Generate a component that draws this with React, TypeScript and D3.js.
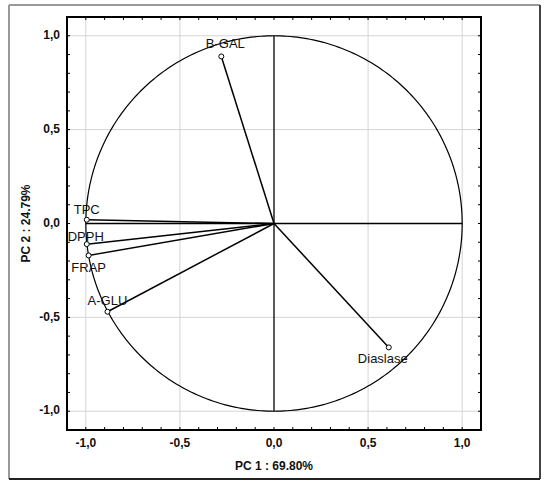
import React from "react";
import * as d3 from "d3";

const variables = ["B-GAL", "TPC", "DPPH", "FRAP", "A-GLU", "Diaslase"];
const pc1Values = [-0.28, -0.995, -0.995, -0.985, -0.885, 0.61];
const pc2Values = [0.89, 0.02, -0.11, -0.17, -0.47, -0.66];
const labelDx = [4, 0, -1, 0, 0, -6];
const labelDy = [-12, -9, -7, 13, -10, 12];
const tickValues = [-1, -0.5, 0, 0.5, 1];
const tickLabels = ["-1,0", "-0,5", "0,0", "0,5", "1,0"];
const xTitle = "PC 1 : 69.80%";
const yTitle = "PC 2 : 24.79%";

const W = 550;
const H = 489;
const left = 67, right = 481, top = 17, bottom = 430;

export default function App() {
  const x = d3.scaleLinear().domain([-1.1, 1.1]).range([left, right]);
  const y = d3.scaleLinear().domain([-1.1, 1.1]).range([bottom, top]);
  const minor = d3.range(-11, 12).map((v) => v / 10);
  const circle = d3.range(0, 361, 1).map((a) => [Math.cos((a * Math.PI) / 180), Math.sin((a * Math.PI) / 180)]);
  const circlePath = d3.line<number[]>().x((d) => x(d[0])).y((d) => y(d[1]))(circle) || "";
  const font = "Liberation Sans, Arial, sans-serif";
  return (
    <svg width={W} height={H} style={{ position: "absolute", left: 0, top: 0, background: "#fff" }} fontFamily={font}>
      <rect x={0} y={0} width={W} height={H} fill="#fff" />
      <line x1={9} y1={5} x2={540} y2={5} stroke="#999" strokeWidth={2} />
      <line x1={9} y1={5} x2={9} y2={479} stroke="#999" strokeWidth={2} />
      <line x1={540} y1={5} x2={540} y2={479} stroke="#444" strokeWidth={2} />
      <line x1={9} y1={479} x2={540} y2={479} stroke="#222" strokeWidth={2} />
      {tickValues.filter((v) => v !== 0).map((v) => (
        <g key={"g" + v}>
          <line x1={x(v)} x2={x(v)} y1={top} y2={bottom} stroke="#d4d4d4" strokeWidth={1} />
          <line x1={left} x2={right} y1={y(v)} y2={y(v)} stroke="#d4d4d4" strokeWidth={1} />
        </g>
      ))}
      {minor.map((v) => (
        <g key={"t" + v} stroke="#000" strokeWidth={1}>
          <line x1={x(v)} x2={x(v)} y1={top} y2={top + 3} />
          <line x1={x(v)} x2={x(v)} y1={bottom} y2={bottom - 3} />
          <line x1={left} x2={left + 3} y1={y(v)} y2={y(v)} />
          <line x1={right} x2={right - 3} y1={y(v)} y2={y(v)} />
        </g>
      ))}
      <line x1={x(-1)} x2={x(1)} y1={y(0)} y2={y(0)} stroke="#000" strokeWidth={1.3} />
      <line x1={x(0)} x2={x(0)} y1={y(1)} y2={y(-1)} stroke="#000" strokeWidth={1.3} />
      <path d={circlePath} fill="none" stroke="#000" strokeWidth={1.2} />
      {variables.map((name, i) => (
        <g key={name}>
          <line x1={x(0)} y1={y(0)} x2={x(pc1Values[i])} y2={y(pc2Values[i])} stroke="#000" strokeWidth={1.5} />
          <circle cx={x(pc1Values[i])} cy={y(pc2Values[i])} r={2.5} fill="#fff" stroke="#000" strokeWidth={1} />
          <text
            x={x(pc1Values[i]) + labelDx[i]}
            y={y(pc2Values[i]) + labelDy[i]}
            textAnchor="middle"
            dominantBaseline="middle"
            fontSize={13}
            fill="#111"
          >
            {name}
          </text>
        </g>
      ))}
      <rect x={left} y={top} width={right - left} height={bottom - top} fill="none" stroke="#000" strokeWidth={2} />
      {tickValues.map((v, i) => (
        <g key={"l" + v}>
          <text x={x(v)} y={bottom + 14} textAnchor="middle" dominantBaseline="middle" fontSize={12} fontWeight="bold" fill="#111">
            {tickLabels[i]}
          </text>
          <text x={left - 7} y={y(v)} textAnchor="end" dominantBaseline="middle" fontSize={12} fontWeight="bold" fill="#111">
            {tickLabels[i]}
          </text>
        </g>
      ))}
      <text x={x(0)} y={467} textAnchor="middle" dominantBaseline="middle" fontSize={12} fontWeight="bold" fill="#111">
        {xTitle}
      </text>
      <text
        transform={`translate(27, ${y(0)}) rotate(-90)`}
        textAnchor="middle"
        dominantBaseline="middle"
        fontSize={12}
        fontWeight="bold"
        fill="#111"
      >
        {yTitle}
      </text>
    </svg>
  );
}
